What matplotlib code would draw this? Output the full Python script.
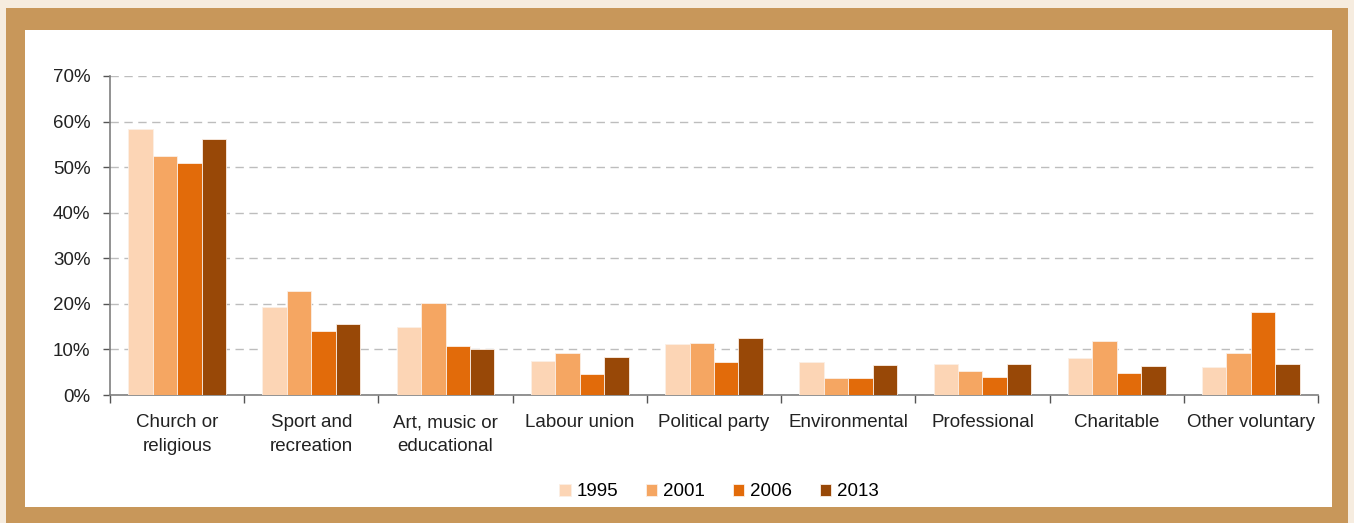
import matplotlib.pyplot as plt
import numpy as np
from matplotlib.patches import Rectangle
from matplotlib import font_manager

categories = ['Church or\nreligious', 'Sport and\nrecreation', 'Art, music or\neducational',
              'Labour union', 'Political party', 'Environmental', 'Professional',
              'Charitable', 'Other voluntary']
years = ['1995', '2001', '2006', '2013']
v1995 = [58.3, 19.4, 14.9, 7.4, 11.3, 7.3, 6.9, 8.2, 6.2]
v2001 = [52.4, 22.9, 20.1, 9.3, 11.5, 3.8, 5.3, 11.9, 9.3]
v2006 = [51.0, 14.1, 10.7, 4.5, 7.2, 3.8, 3.9, 4.9, 18.3]
v2013 = [56.2, 15.5, 10.1, 8.4, 12.4, 6.5, 6.9, 6.4, 6.9]
colors = ['#FCD5B5', '#F5A662', '#E26B0A', '#984807']

names = {f.name for f in font_manager.fontManager.ttflist}
if 'Liberation Sans Narrow' in names:
    plt.rcParams['font.family'] = ['Liberation Sans Narrow', 'DejaVu Sans']
    fs = 15.5
else:
    plt.rcParams['font.family'] = ['Liberation Sans', 'DejaVu Sans']
    fs = 13.5

fig = plt.figure(figsize=(13.54, 5.23), dpi=100, facecolor='#F6ECDF')
W, H = 1354, 523
# brown frame and white panel
fig.patches.append(Rectangle((6 / W, 0), 1342 / W, 1 - 8 / H, transform=fig.transFigure,
                             facecolor='#C8975A', edgecolor='none', zorder=-2))
fig.patches.append(Rectangle((25 / W, 1 - 507 / H), 1307 / W, 477 / H, transform=fig.transFigure,
                             facecolor='white', edgecolor='none', zorder=-1))

ax = fig.add_axes([110 / W, 1 - 395 / H, 1208 / W, 319 / H])
ax.set_facecolor('none')

x = np.arange(len(categories))
bw = 0.182
for i, (vals, c, yr) in enumerate(zip([v1995, v2001, v2006, v2013], colors, years)):
    ax.bar(x + (i - 1.5) * bw, vals, bw, color=c, edgecolor='#FBEFE6', linewidth=0.6,
           label=yr, zorder=3)

ax.set_xlim(-0.5, len(categories) - 0.5)
ax.set_ylim(0, 70)
ax.set_yticks(range(0, 71, 10))
ax.set_yticklabels([f'{t}%' for t in range(0, 71, 10)], fontsize=fs, color='#222222')
ax.set_xticks(x)
ax.set_xticklabels(categories, fontsize=fs, color='#222222', linespacing=1.5)
ax.set_xticks(np.arange(-0.5, len(categories)), minor=True)
ax.tick_params(axis='x', which='major', length=0, pad=14)
ax.tick_params(axis='x', which='minor', length=6, color='#555555', width=1)
ax.tick_params(axis='y', length=5, color='#555555', width=1, pad=9)

for s in ['top', 'right']:
    ax.spines[s].set_visible(False)
for s in ['left', 'bottom']:
    ax.spines[s].set_color('#7F7F7F')
    ax.spines[s].set_linewidth(1.2)

ax.yaxis.grid(True, color='#BDBDBD', linestyle=(0, (6, 4)), linewidth=1, zorder=0)
ax.set_axisbelow(True)

ax.legend(loc='center', bbox_to_anchor=(719 / W, 1 - 492 / H), bbox_transform=fig.transFigure,
          ncol=4, frameon=False, fontsize=fs, handlelength=0.6, handleheight=0.6,
          handletextpad=0.3, columnspacing=1.5)

fig.savefig('out.png', dpi=100, facecolor=fig.get_facecolor())
